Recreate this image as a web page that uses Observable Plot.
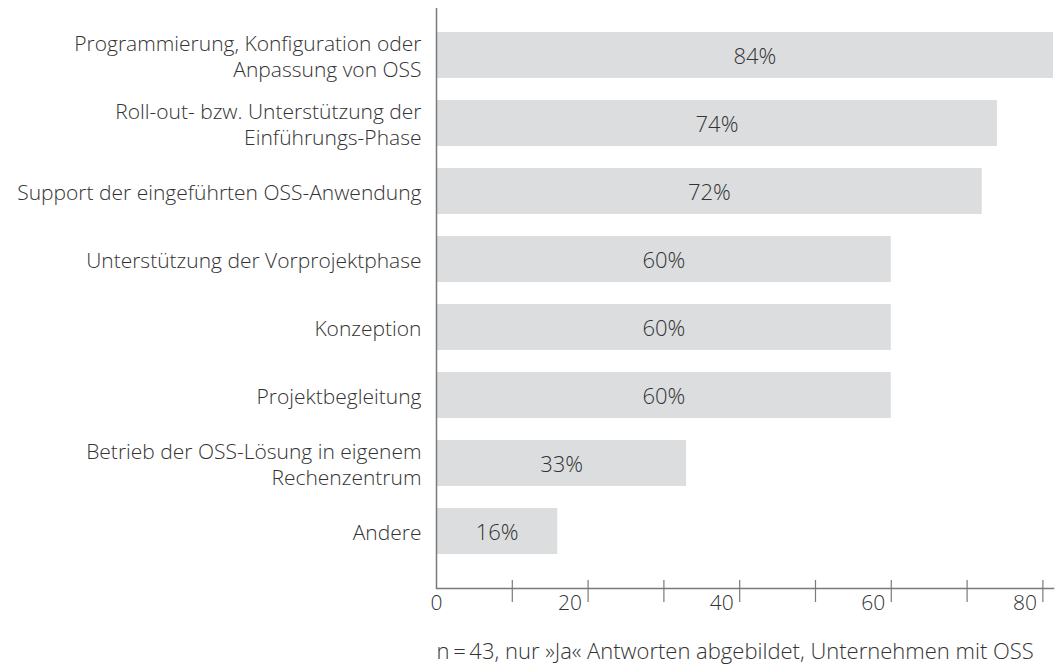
<!DOCTYPE html>
<html>
<head>
<meta charset="utf-8">
<script src="https://cdn.jsdelivr.net/npm/d3@7"></script>
<script src="https://cdn.jsdelivr.net/npm/@observablehq/plot@0.6"></script>
<style>
  html, body { margin: 0; padding: 0; background: #fff; }
  svg { display: block; }
</style>
</head>
<body>
<div id="chart"></div>
<script>
const categories = [
  "Programmierung, Konfiguration oder\nAnpassung von OSS",
  "Roll-out- bzw. Unterstützung der\nEinführungs-Phase",
  "Support der eingeführten OSS-Anwendung",
  "Unterstützung der Vorprojektphase",
  "Konzeption",
  "Projektbegleitung",
  "Betrieb der OSS-Lösung in eigenem\nRechenzentrum",
  "Andere"
];
const values = [84, 74, 72, 60, 60, 60, 33, 16];
const minorTicks = [0, 10, 20, 30, 40, 50, 60, 70, 80];
const tickLabels = [20, 40, 60, 80];
const caption = "n\u2009=\u200943, nur »Ja« Antworten abgebildet, Unternehmen mit OSS";

const data = categories.map((c, i) => ({category: c, value: values[i]}));

const textColor = "#333333";
const axisColor = "#7a7a7a";
const fontFamily = "'Open Sans', 'Noto Sans', sans-serif";

const chart = Plot.plot({
  width: 1057,
  height: 665,
  marginLeft: 436,
  marginRight: 4,
  marginTop: 8,
  marginBottom: 77,
  style: {fontFamily, fontSize: "21px", fontWeight: 300, color: textColor, background: "#fff"},
  x: {domain: [0, 81.4], clamp: true, axis: null},
  y: {domain: categories, paddingInner: 0.3235, paddingOuter: 0.419, align: 0.421, axis: null},
  marks: [
    Plot.barX(data, {x: "value", y: "category", fill: "#dcdddf"}),
    Plot.text(data, {x: d => d.value / 2, y: "category", text: d => `${d.value}%`, fill: textColor, fontSize: 22, fontWeight: 300, dy: 1}),
    Plot.text(data, {x: 0, y: "category", text: "category", textAnchor: "end", dx: -15, lineHeight: 1.23, fill: textColor, fontSize: 21, fontWeight: 300}),
    Plot.ruleX([0], {stroke: axisColor, strokeWidth: 1.5}),
    Plot.frame({anchor: "bottom", stroke: axisColor, strokeWidth: 1.5}),
    Plot.ruleX(minorTicks.slice(1), {x: d => d, stroke: axisColor, strokeWidth: 1.2, insetTop: 572, insetBottom: -14}),
    Plot.text(tickLabels, {x: d => d, frameAnchor: "bottom", dy: 21, textAnchor: "end", dx: -6, fill: textColor, fontSize: 21, fontWeight: 300}),
    Plot.text([0], {x: d => d, frameAnchor: "bottom", dy: 21, fill: textColor, fontSize: 21, fontWeight: 300}),
    Plot.text([caption], {x: 0, frameAnchor: "bottom", dy: 70, textAnchor: "start", text: d => d, fill: textColor, fontSize: 22, fontWeight: 300})
  ]
});
document.getElementById("chart").appendChild(chart);
</script>
</body>
</html>
